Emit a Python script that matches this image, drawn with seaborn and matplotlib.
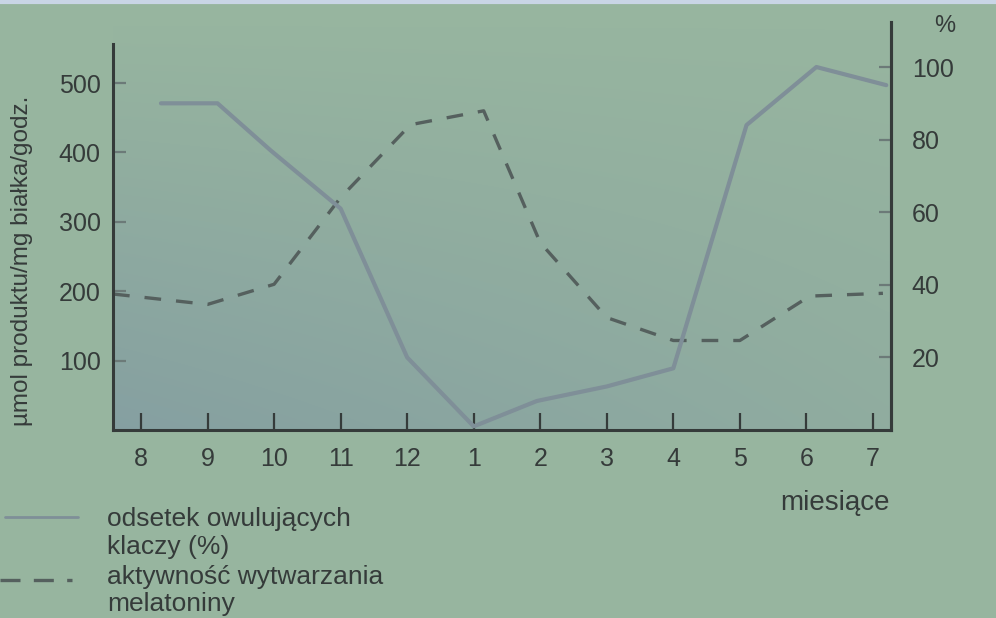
import matplotlib
matplotlib.use('Agg')
import matplotlib.pyplot as plt
import numpy as np
import pandas as pd
import seaborn as sns
from matplotlib.lines import Line2D

# months on the x axis (August .. July)
month_labels = ['8', '9', '10', '11', '12', '1', '2', '3', '4', '5', '6', '7']
month_pos = list(range(12))

# odsetek owulujacych klaczy (%), right axis
ovul_x = [0.3, 1.15, 1.95, 3, 4, 5, 5.95, 7, 8, 9.1, 10.15, 11.2]
ovul_pct = [90, 90, 77, 61, 20, 1, 8, 12, 17, 84, 100, 95]

# aktywnosc wytwarzania melatoniny, left axis
mel_x = [-0.42, 1, 2, 3, 4.05, 5.15, 6, 7, 8, 9, 10.05, 11.15]
mel_act = [196, 181, 210, 335, 440, 460, 270, 162, 129, 129, 193, 197]

left_ticks = [100, 200, 300, 400, 500]
right_ticks = [20, 40, 60, 80, 100]

bg = '#97b59f'
ink = '#353b3a'
solid_col = '#7f8f98'
dash_col = '#55605e'

sns.set_theme(style='ticks')
plt.rcParams['font.family'] = ['Liberation Sans', 'DejaVu Sans']
plt.rcParams['text.color'] = ink

ovul = pd.DataFrame({'x': ovul_x, 'pct': ovul_pct})
mel = pd.DataFrame({'x': mel_x, 'act': mel_act})

fig = plt.figure(figsize=(9.96, 6.18), dpi=100, facecolor=bg)
ax = fig.add_axes([0.1135, 0.3042, 0.781, 0.6602])
ax.set_facecolor(bg)
ax2 = ax.twinx()

# slight bluish shading of the photographed plot area (lower left darker)
gy, gx = np.mgrid[0:1:100j, 0:1:100j]
shade = np.zeros((100, 100, 4))
shade[..., 0] = 0.47
shade[..., 1] = 0.56
shade[..., 2] = 0.64
shade[..., 3] = np.clip(0.55 * (1 - gy) * (1 - 0.6 * gx), 0, 1)
ax.imshow(shade, extent=[0, 1, 0, 1], origin='lower', transform=ax.transAxes,
          aspect='auto', zorder=0, interpolation='bilinear')

sns.lineplot(x='x', y='act', data=mel, ax=ax, sort=False, color=dash_col,
             lw=2.4, linestyle=(0, (5, 4.5)))
sns.lineplot(x='x', y='pct', data=ovul, ax=ax2, sort=False, color=solid_col,
             lw=3)

ax.set_xlim(-0.42, 11.27)
ax.set_ylim(0, 588)
ax2.set_ylim(0, 112.4)

ax.set_xticks(month_pos)
ax.set_xticklabels(month_labels)
ax.set_yticks(left_ticks)
ax2.set_yticks(right_ticks)

for a in (ax, ax2):
    for s in a.spines.values():
        s.set_color(ink)
        s.set_linewidth(2.2)
    a.spines['top'].set_visible(False)
ax.spines['left'].set_bounds(0, 557)
ax2.spines['left'].set_visible(False)
ax2.spines['bottom'].set_visible(False)

ax.tick_params(axis='x', direction='in', length=12, width=1.6, color=ink,
               labelsize=18, pad=12, labelcolor=ink)
ax.tick_params(axis='y', direction='in', length=9, width=1.6, color='#6c7a78',
               labelsize=18, pad=9, labelcolor=ink)
ax2.tick_params(axis='y', direction='in', length=9, width=1.6, color='#6c7a78',
                labelsize=18, pad=15, labelcolor=ink)

ax.set_xlabel('')
ax.set_ylabel('')
ax2.set_ylabel('')
ax.grid(False)
ax2.grid(False)

fig.text(0.022, 0.578, 'µmol produktu/mg białka/godz.', rotation=90,
         ha='center', va='center', fontsize=17.5, color=ink)
fig.text(0.948, 0.958, '%', ha='center', va='center', fontsize=17, color=ink)
fig.text(0.838, 0.186, 'miesiące', ha='center', va='center', fontsize=20,
         color=ink)

# legend
H = 618.0
fig.add_artist(Line2D([5 / 996, 78 / 996], [1 - 517 / H, 1 - 517 / H],
                      color=solid_col, lw=2, transform=fig.transFigure))
fig.add_artist(Line2D([0, 72 / 996], [1 - 580 / H, 1 - 580 / H],
                      color=dash_col, lw=2.4, linestyle=(0, (6, 4)),
                      transform=fig.transFigure))
for txt, yy in [('odsetek owulujących', 519), ('klaczy (%)', 547),
                ('aktywność wytwarzania', 577), ('melatoniny', 604)]:
    fig.text(107 / 996, 1 - yy / H, txt, ha='left', va='center', fontsize=19,
             color=ink)

# thin window border at top of the photo
fig.add_artist(Line2D([0, 1], [0.996, 0.996], color='#c9d5e6', lw=3,
                      transform=fig.transFigure))

fig.savefig('out.png', dpi=100, facecolor=bg)
